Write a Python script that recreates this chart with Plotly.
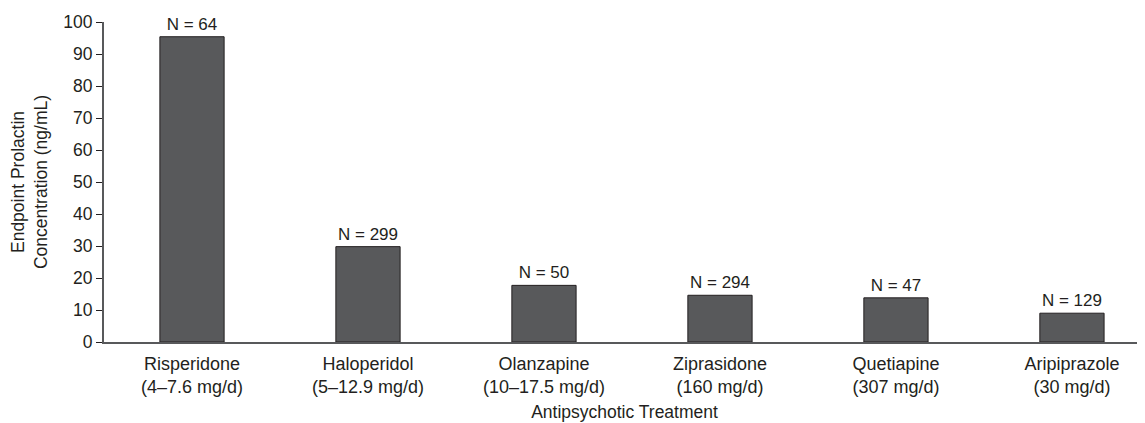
import plotly.graph_objects as go

drugs = ["Risperidone", "Haloperidol", "Olanzapine", "Ziprasidone", "Quetiapine", "Aripiprazole"]
doses = ["(4–7.6 mg/d)", "(5–12.9 mg/d)", "(10–17.5 mg/d)", "(160 mg/d)", "(307 mg/d)", "(30 mg/d)"]
prolactin = [95.4, 29.8, 17.7, 14.6, 13.8, 9.0]
n_labels = ["N = 64", "N = 299", "N = 50", "N = 294", "N = 47", "N = 129"]
y_ticks = [0, 10, 20, 30, 40, 50, 60, 70, 80, 90, 100]

categories = [f"{d}<br>{s}" for d, s in zip(drugs, doses)]
FONT = "Liberation Sans, Arial, sans-serif"
TXT = "#231f20"
AX = "#58595b"

fig = go.Figure(go.Bar(
    x=categories, y=prolactin,
    width=0.365,
    marker=dict(color="#58595b", line=dict(color=TXT, width=1)),
    text=n_labels, textposition="outside", cliponaxis=False,
    textfont=dict(family=FONT, size=17, color=TXT),
))

fig.update_layout(
    width=1137, height=415,
    margin=dict(l=96, r=0, t=14, b=81, autoexpand=False),
    paper_bgcolor="white", plot_bgcolor="white",
    showlegend=False,
    font=dict(family=FONT, size=17, color=TXT),
)
fig.update_xaxes(
    range=[-0.5, 5.415], showline=True, linecolor=AX, linewidth=2,
    ticks="", ticklabelstandoff=4, tickfont=dict(size=18, family=FONT, color=TXT),
    title=dict(text="Antipsychotic Treatment", font=dict(size=17.5, family=FONT, color=TXT), standoff=10),
    showgrid=False, zeroline=False, automargin=False,
)
fig.update_yaxes(
    range=[0, 100], tickvals=y_ticks, showline=True, linecolor=AX, linewidth=2,
    ticks="outside", ticklen=6, tickcolor=TXT, tickwidth=1,
    tickfont=dict(size=17.5, family=FONT, color=TXT),
    title=dict(text="Endpoint Prolactin<br>Concentration (ng/mL)", font=dict(size=17.5, family=FONT, color=TXT), standoff=14),
    showgrid=False, zeroline=False, automargin=False,
)

fig.write_html("out.html")
